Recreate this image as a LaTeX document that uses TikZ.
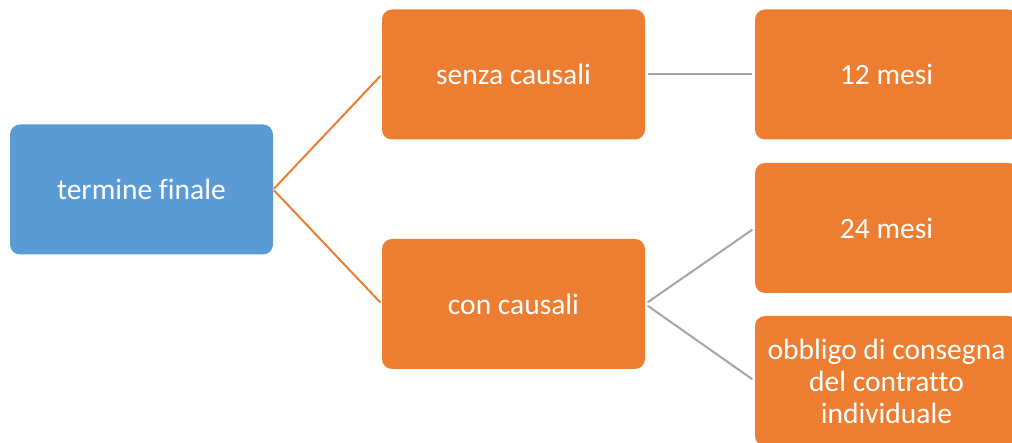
\documentclass[tikz,border=0pt]{standalone}
\usepackage{fontspec}
\setmainfont{Carlito}[Ligatures=CommonOff]
\definecolor{cblue}{HTML}{5B9BD5}
\definecolor{corange}{HTML}{ED7D31}
\definecolor{cgrey}{HTML}{A5A5A5}
\begin{document}
\begin{tikzpicture}[x=1pt,y=-1pt,
  box/.style={rectangle, rounded corners=10pt, minimum width=263pt, minimum height=130pt,
    inner sep=0pt, text=white, align=center, font=\fontsize{29.5}{32}\selectfont},
  bluebox/.style={box, fill=cblue},
  orbox/.style={box, fill=corange},
  orline/.style={draw=corange, line width=2pt, shorten <=1pt, shorten >=2pt},
  grline/.style={draw=cgrey, line width=2pt, shorten <=3pt, shorten >=3pt}]
\useasboundingbox (0,0) rectangle (1012,443);
\clip (0,0) rectangle (1012,443);
\node[bluebox] (term) at (141.5,189.5) {termine finale};
\node[orbox] (senza) at (513.5,74.5) {senza causali};
\node[orbox] (con) at (513.5,304) {con causali};
\node[orbox] (m12) at (886.5,74.5) {12 mesi};
\node[orbox] (m24) at (886.5,228) {24 mesi};
\node[orbox] (obb) at (886.5,381) {obbligo di consegna\\del contratto\\individuale};
\draw[orline] (term.east) -- (senza.west);
\draw[orline] (term.east) -- (con.west);
\draw[grline] (senza.east) -- (m12.west);
\draw[grline] (con.east) -- (m24.west);
\draw[grline] (con.east) -- (obb.west);
\end{tikzpicture}
\end{document}
